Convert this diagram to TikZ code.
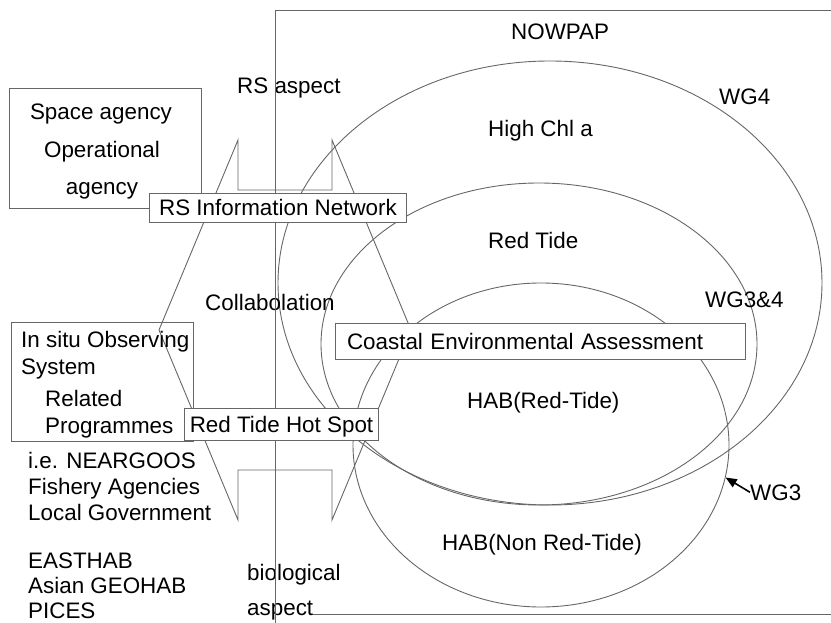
\documentclass[tikz,border=0pt]{standalone}
\usepackage{fontspec}
\setmainfont{Liberation Sans}
\usetikzlibrary{positioning,arrows,shapes,calc}
\tikzstyle{txt}=[inner sep=0pt, anchor=base west, text=black]
\tikzstyle{ctxt}=[inner sep=0pt, anchor=base, text=black]
\tikzstyle{wbox}=[rectangle, draw=black!60, fill=white, line width=0.9pt, text=black,
text height=16pt, text depth=0pt, inner xsep=10pt]
\tikzstyle{obox}=[rectangle, draw=black!60, line width=0.9pt, inner sep=0pt]
\tikzstyle{oval}=[ellipse, draw=black!60, line width=0.9pt, inner sep=0pt]
\tikzstyle{line}=[-, draw=black!60, line width=0.9pt]

\begin{document}
\begin{tikzpicture}[x=1pt, y=-1pt, font=\fontsize{22.4}{26}\selectfont]
\useasboundingbox (0,0) rectangle (831,623);

%working groups
    \node (wgfour) [oval, minimum width=544pt, minimum height=444pt] at (550,283) {};
    \node (wgthreefour) [oval, minimum width=436pt, minimum height=322pt] at (539,344) {};
    \node (wgthree) [oval, minimum width=376pt, minimum height=324pt] at (541,445) {};

%collaboration shape
   \draw[line] (238,140) -- (159,330) -- (238,520) -- (238,470) -- (332,470) -- (332,520)
        -- (411,330) -- (332,140) -- (332,190) -- (238,190) -- cycle;

    \node (nowpap) [txt] at (511,40) {NOWPAP};
    \node (wg4) [txt] at (719,105) {WG4};
    \node (highchl) [txt] at (488,137) {High Chl a};
    \node (redtide) [txt] at (488,248) {Red Tide};
    \node (wg34) [txt] at (705,307) {WG3\&4};
    \node (habrt) [txt] at (467,408) {HAB(Red-Tide)};
    \node (wg3) [txt] at (750,500) {WG3};
    \node (habnon) [txt] at (442,550) {HAB(Non Red-Tide)};

    \node (rsasp) [txt] at (237,94) {RS aspect};
    \node (collab) [txt] at (205,310) {Collabolation};
    \node (bio) [txt] at (247,580) {biological};
    \node (bioasp) [txt] at ($(bio.base west)+(0,35)$) {aspect};

    \node (neargoos) [txt] at (28,468) {i.e. NEARGOOS};
    \node (fishery) [txt] at ($(neargoos.base west)+(0,26)$) {Fishery Agencies};
    \node (localgov) [txt] at ($(fishery.base west)+(0,26)$) {Local Government};
    \node (easthab) [txt] at (28,568) {EASTHAB};
    \node (geohab) [txt] at ($(easthab.base west)+(0,25)$) {Asian GEOHAB};
    \node (pices) [txt] at ($(geohab.base west)+(0,25)$) {PICES};

%NOWPAP frame
   \draw[line] (831,10) -- (275,10) -- (275,623);
   \draw[line] (bioasp.east |- 0,614) -- (831,614);

%boxes
    \node (agency) [obox, minimum width=192pt, minimum height=120pt] at (105,148) {};
    \node (space) [ctxt] at (101,120) {Space agency};
    \node (operat) [ctxt] at ($(space.base)+(1,38)$) {Operational};
    \node (agencyb) [ctxt] at ($(operat.base)+(0,37)$) {agency};

    \node (insitu) [obox, minimum width=182pt, minimum height=119pt] at (102,381.5) {};
    \node (observ) [txt] at (21,347) {In situ Observing};
    \node (system) [txt] at ($(observ.base west)+(0,27)$) {System};
    \node (related) [txt] at (45,406) {Related};
    \node (progr) [txt] at ($(related.base west)+(0,27)$) {Programmes};

    \node (rsnet) [wbox, inner ysep=6.5pt] at (278,208) {RS Information Network};
    \node (rthot) [wbox, inner xsep=5pt, inner ysep=8pt] at (281.5,424) {Red Tide Hot Spot};
    \node (coastal) [wbox, text width=386pt, align=left, inner xsep=12pt, inner ysep=10pt]
        at (540,341) {Coastal Environmental Assessment};

   \draw[line, draw=black, line width=1.6pt, -triangle 45] (wg3.west) -- (wgthree.-10);

\end{tikzpicture}
\end{document}
